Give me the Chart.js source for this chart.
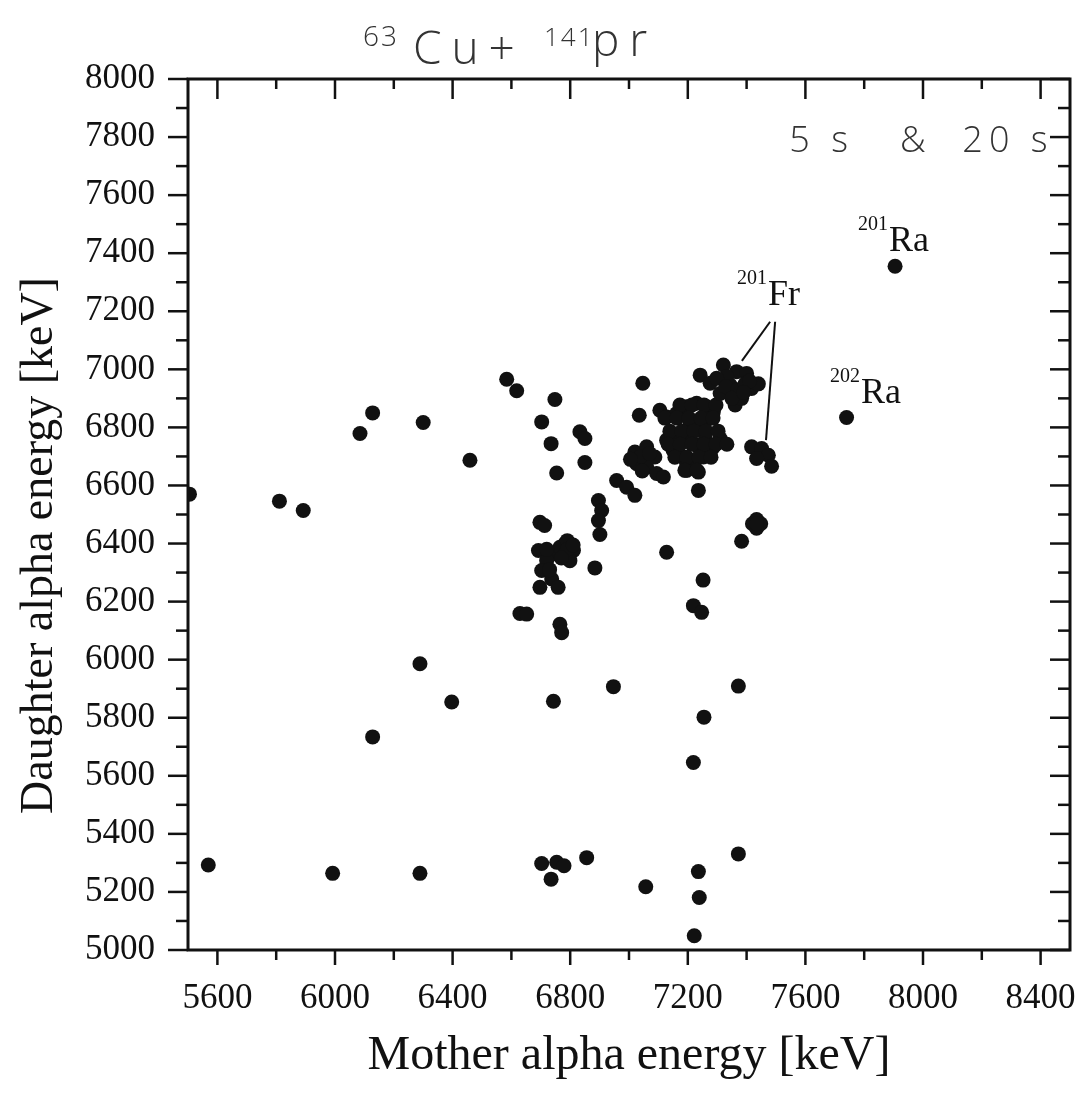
<!DOCTYPE html>
<html lang="en">
<head>
<meta charset="UTF-8">
<title>Mother vs daughter alpha energy</title>
<style>
  body { margin: 0; background: white; }
  #wrap { width: 1079px; height: 1095px; }
</style>
<script src="https://cdn.jsdelivr.net/npm/chart.js"></script>
</head>
<body>
<div id="wrap"><canvas id="chart" width="1079" height="1095"></canvas></div>
<script>
// correlated alpha decay pairs, keV
const motherEnergy = [
  5505, 5811, 5892, 6085, 6128, 6300, 6459, 6289, 6397, 6128, 5569, 5992, 6289,
  6743, 6947, 7372, 7255, 7219, 6703, 6754, 6779, 6735, 6856, 7057, 7236, 7239, 7372, 7222,
  6584, 6618, 6748, 6703, 6735, 6754, 6833, 6850, 6850, 7047, 7035,
  7020, 7060, 7088, 7026, 7060, 7094, 7117, 7040, 7070, 7045, 7005,
  6958, 6992, 7020,
  6896, 6907, 6896, 6901, 6884, 6697, 6713,
  6782, 6811, 6799, 6754, 6692, 6720, 6703, 6737, 6697, 6759, 6765, 6790, 6790, 6770, 6810, 6730, 6720,
  7128, 7252, 7219, 7247, 6629, 6652, 6765, 6771, 7236, 7383,
  7105, 7128, 7162, 7196, 7230, 7264, 7287, 7128, 7162, 7196, 7230, 7310,
  7150, 7184, 7219, 7253, 7287, 7196, 7236, 7208, 7253, 7276, 7196, 7236, 7196, 7230, 7260, 7270,
  7173, 7214, 7255, 7296, 7122, 7163, 7204, 7245, 7286, 7139, 7180, 7221, 7262, 7303,
  7133, 7174, 7214, 7255, 7296, 7333, 7156, 7197, 7238, 7279, 7190, 7231,
  7242, 7276, 7321, 7366, 7400, 7417, 7344, 7310, 7361, 7383, 7332, 7298, 7440,
  7330, 7370, 7395, 7350, 7410, 7390,
  7417, 7451, 7474, 7434, 7485,
  7420, 7448, 7434, 7434, 7434,
  7740, 7905
];
const daughterEnergy = [
  6570, 6546, 6514, 6779, 6850, 6817, 6687, 5986, 5854, 5734, 5293, 5264, 5264,
  5857, 5907, 5909, 5802, 5646, 5298, 5302, 5290, 5244, 5318, 5218, 5270, 5181, 5331, 5049,
  6966, 6926, 6896, 6819, 6744, 6643, 6785, 6762, 6679, 6952, 6842,
  6715, 6733, 6698, 6675, 6664, 6641, 6629, 6700, 6710, 6650, 6690,
  6617, 6594, 6566,
  6548, 6514, 6479, 6431, 6316, 6473, 6462,
  6399, 6376, 6341, 6364, 6376, 6341, 6307, 6278, 6249, 6249, 6387, 6410, 6380, 6350, 6395, 6310, 6380,
  6370, 6274, 6186, 6163, 6159, 6157, 6122, 6093, 6583, 6408,
  6859, 6836, 6848, 6871, 6883, 6871, 6854, 6756, 6767, 6790, 6802, 6762,
  6721, 6698, 6675, 6698, 6733, 6652, 6646, 6813, 6802, 6710, 6756, 6733, 6675, 6740, 6760, 6830,
  6877, 6877, 6877, 6877, 6832, 6832, 6832, 6832, 6832, 6787, 6787, 6787, 6787, 6787,
  6742, 6742, 6742, 6742, 6742, 6742, 6697, 6697, 6697, 6697, 6652, 6652,
  6980, 6952, 7015, 6992, 6986, 6934, 6946, 6917, 6877, 6900, 6975, 6969, 6950,
  6940, 6930, 6950, 6900, 6960, 6920,
  6733, 6727, 6704, 6693, 6666,
  6468, 6468, 6453, 6483, 6468,
  6834, 7355
];

const xTicks = [5600, 6000, 6400, 6800, 7200, 7600, 8000, 8400];
const xMinorTicks = [5800, 6200, 6600, 7000, 7400, 7800, 8200];
const yTicks = [5000, 5200, 5400, 5600, 5800, 6000, 6200, 6400, 6600, 6800, 7000, 7200, 7400, 7600, 7800, 8000];
const yMinorTicks = [5100, 5300, 5500, 5700, 5900, 6100, 6300, 6500, 6700, 6900, 7100, 7300, 7500, 7700, 7900];

// isotope labels: superscript mass number + element, anchored at left/baseline in keV
const isotopeLabels = [
  { mass: '201', name: 'Ra', x: 7779, y: 7409 },
  { mass: '202', name: 'Ra', x: 7684, y: 6884 },
  { mass: '201', name: 'Fr', x: 7367, y: 7222 }
];
// pointer lines from the Fr label to its two groups
const pointerLines = [
  [7480, 7164, 7384, 7029],
  [7497, 7164, 7466, 6756]
];
// hand-written notes on the page
const notes = [
  { text: '63', x: 6095, y: 8115, size: 28, gap: 2 },
  { text: 'Cu+', x: 6265, y: 8052, size: 46, gap: 10 },
  { text: '141', x: 6711, y: 8115, size: 26, gap: 2 },
  { text: 'pr', x: 6874, y: 8079, size: 46, gap: 10 },
  { text: '5 s   &  20 s', x: 7545, y: 7748, size: 36, gap: 6 }
];

const serif = '"Liberation Serif", "Times New Roman", serif';
const ink = '#111';

const decorations = {
  id: 'decorations',
  afterDatasetsDraw(chart) {
    const { ctx, chartArea: a, scales: { x, y } } = chart;
    ctx.save();
    ctx.strokeStyle = ink;
    ctx.fillStyle = ink;

    function line(x1, y1, x2, y2) {
      ctx.beginPath();
      ctx.moveTo(x1, y1);
      ctx.lineTo(x2, y2);
      ctx.stroke();
    }

    // ticks on all four sides
    ctx.lineWidth = 2.5;
    xTicks.forEach(v => {
      const px = x.getPixelForValue(v);
      line(px, a.bottom, px, a.bottom + 15);
      line(px, a.top, px, a.top + 20);
    });
    xMinorTicks.forEach(v => {
      const px = x.getPixelForValue(v);
      line(px, a.bottom, px, a.bottom + 10);
      line(px, a.top, px, a.top + 10);
    });
    yTicks.forEach(v => {
      const py = y.getPixelForValue(v);
      line(a.left - 20, py, a.left, py);
      line(a.right - 20, py, a.right, py);
    });
    yMinorTicks.forEach(v => {
      const py = y.getPixelForValue(v);
      line(a.left - 12, py, a.left, py);
      line(a.right - 12, py, a.right, py);
    });

    ctx.lineWidth = 3;
    ctx.strokeRect(a.left, a.top, a.right - a.left, a.bottom - a.top);

    // Fr pointer lines
    ctx.lineWidth = 2;
    pointerLines.forEach(p => {
      line(x.getPixelForValue(p[0]), y.getPixelForValue(p[1]), x.getPixelForValue(p[2]), y.getPixelForValue(p[3]));
    });

    // isotope labels
    ctx.textBaseline = 'alphabetic';
    ctx.textAlign = 'left';
    isotopeLabels.forEach(l => {
      const px = x.getPixelForValue(l.x);
      const py = y.getPixelForValue(l.y);
      ctx.font = '20px ' + serif;
      ctx.fillText(l.mass, px, py - 21);
      const w = ctx.measureText(l.mass).width;
      ctx.font = '36px ' + serif;
      ctx.fillText(l.name, px + w + 1, py);
    });

    // hand-written notes
    ctx.fillStyle = '#333';
    notes.forEach(n => {
      ctx.font = '300 ' + n.size + 'px "Open Sans", "DejaVu Sans", sans-serif';
      ctx.letterSpacing = n.gap + 'px';
      ctx.fillText(n.text, x.getPixelForValue(n.x), y.getPixelForValue(n.y));
    });
    ctx.letterSpacing = '0px';

    // y axis title
    ctx.fillStyle = ink;
    ctx.font = '46px ' + serif;
    ctx.textAlign = 'center';
    ctx.textBaseline = 'middle';
    ctx.translate(40, (a.top + a.bottom) / 2 + 31);
    ctx.rotate(-Math.PI / 2);
    ctx.fillText('Daughter alpha energy [keV]', 0, 0);
    ctx.restore();
  }
};

const points = motherEnergy.map((m, i) => ({ x: m, y: daughterEnergy[i] }));

new Chart(document.getElementById('chart').getContext('2d'), {
  type: 'scatter',
  data: {
    datasets: [{
      data: points,
      backgroundColor: ink,
      borderWidth: 0,
      pointRadius: 7.5,
      clip: 0
    }]
  },
  options: {
    responsive: false,
    animation: false,
    layout: { padding: { top: 79, right: 9, left: 0, bottom: 0 } },
    plugins: { legend: { display: false }, tooltip: { enabled: false } },
    scales: {
      x: {
        type: 'linear',
        min: 5500,
        max: 8500,
        afterBuildTicks: s => { s.ticks = xTicks.map(v => ({ value: v })); },
        afterFit: s => { s.height = 145; s.paddingLeft = 0; s.paddingRight = 0; },
        grid: { display: false, drawTicks: false },
        border: { display: false },
        ticks: {
          callback: v => String(v),
          font: { family: serif, size: 35 },
          color: ink,
          padding: 28,
          maxRotation: 0,
          autoSkip: false
        },
        title: {
          display: true,
          text: 'Mother alpha energy [keV]',
          font: { family: serif, size: 48 },
          color: ink,
          padding: { top: 0, bottom: 10 }
        }
      },
      y: {
        type: 'linear',
        min: 5000,
        max: 8000,
        afterBuildTicks: s => { s.ticks = yTicks.map(v => ({ value: v })); },
        afterFit: s => { s.width = 188; s.paddingTop = 0; s.paddingBottom = 0; },
        grid: { display: false, drawTicks: false },
        border: { display: false },
        ticks: {
          callback: v => String(v),
          font: { family: serif, size: 35 },
          color: ink,
          padding: 33,
          autoSkip: false
        }
      }
    }
  },
  plugins: [decorations]
});
</script>
</body>
</html>
